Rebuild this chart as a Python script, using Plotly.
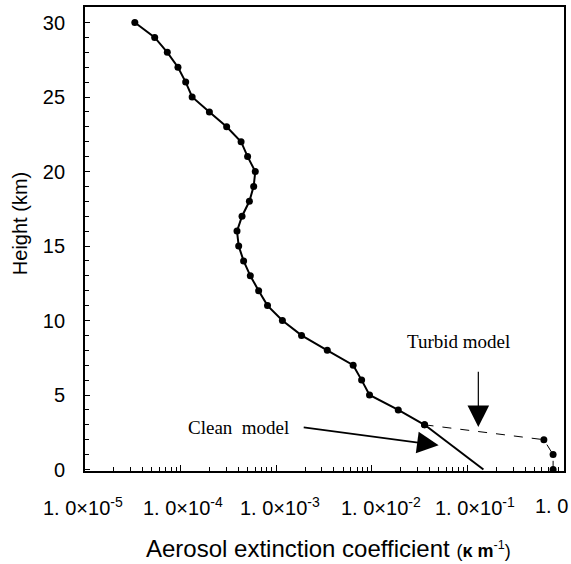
import math
import plotly.graph_objects as go

# ---- data ----
heights_main = [30, 29, 28, 27, 26, 25, 24, 23, 22, 21, 20, 19, 18, 17, 16,
                15, 14, 13, 12, 11, 10, 9, 8, 7, 6, 5, 4, 3]
ext_main = [3.32e-5, 5.36e-5, 7.26e-5, 9.38e-5, 1.13e-4, 1.32e-4, 2.00e-4,
            3.03e-4, 4.29e-4, 5.02e-4, 6.04e-4, 5.81e-4, 5.24e-4, 4.39e-4,
            3.89e-4, 4.05e-4, 4.56e-4, 5.36e-4, 6.55e-4, 8.11e-4, 1.16e-3,
            1.84e-3, 3.42e-3, 6.38e-3, 7.82e-3, 9.46e-3, 1.89e-2, 3.56e-2]

heights_clean = [3, 0]
ext_clean = [3.56e-2, 1.47e-1]

heights_turbid = [3, 2, 1, 0]
ext_turbid = [3.56e-2, 0.63, 0.787, 0.787]

xtick_vals = [1e-5, 1e-4, 1e-3, 1e-2, 1e-1, 1.0]
xtick_text = ["1. 0×10<sup>-5</sup>", "1. 0×10<sup>-4</sup>", "1. 0×10<sup>-3</sup>",
              "1. 0×10<sup>-2</sup>", "1. 0×10<sup>-1</sup>", "1. 0"]
xtick_shift = [-2, 2, 4, 9, 8, -12]
ytick_vals = [0, 5, 10, 15, 20, 25, 30]

fig = go.Figure()

fig.add_trace(go.Scatter(
    x=ext_turbid, y=heights_turbid, mode="lines+markers",
    line=dict(color="black", width=1, dash="dash"),
    marker=dict(color="black", size=7), showlegend=False))
fig.add_trace(go.Scatter(
    x=ext_clean, y=heights_clean, mode="lines",
    line=dict(color="black", width=2), showlegend=False))
fig.add_trace(go.Scatter(
    x=ext_main, y=heights_main, mode="lines+markers",
    line=dict(color="black", width=2),
    marker=dict(color="black", size=7), showlegend=False))

sans = "Liberation Sans, Arial, sans-serif"
serif = "Liberation Serif, Times New Roman, serif"

annotations = []
for v, t, s in zip(xtick_vals, xtick_text, xtick_shift):
    annotations.append(dict(
        x=math.log10(v), y=0, xref="x", yref="paper", text=t, showarrow=False,
        xanchor="center", yanchor="middle", yshift=-35, xshift=s,
        font=dict(family=sans, size=20, color="black")))

annotations += [
    dict(x=0.509, y=0, xref="paper", yref="paper",
         text='Aerosol extinction coefficient <span style="font-size:18px">(<b>κ m</b><sup>-1</sup>)</span>',
         showarrow=False, xanchor="center", yanchor="middle", yshift=-77,
         font=dict(family=sans, size=24, color="black")),
    dict(x=0, y=0.532, xref="paper", yref="paper", text="Height (km)",
         textangle=-90, showarrow=False, xanchor="center", yanchor="middle",
         xshift=-65, font=dict(family=sans, size=20, color="black")),
    dict(x=math.log10(0.08), y=8.6, xref="x", yref="y", text="Turbid model",
         showarrow=False, font=dict(family=serif, size=19, color="black")),
    dict(x=math.log10(4.0e-4), y=2.85, xref="x", yref="y", text="Clean&nbsp; model",
         showarrow=False, font=dict(family=serif, size=19, color="black")),
    dict(x=math.log10(0.13), y=2.85, xref="x", yref="y",
         ax=math.log10(0.13), ay=6.66, axref="x", ayref="y", text="",
         showarrow=True, arrowhead=2, arrowsize=3.6, arrowwidth=1.2, arrowcolor="black"),
    dict(x=math.log10(0.05), y=1.62, xref="x", yref="y",
         ax=math.log10(1.87e-3), ay=2.84, axref="x", ayref="y", text="",
         showarrow=True, arrowhead=2, arrowsize=2.7, arrowwidth=1.6, arrowcolor="black"),
]

fig.update_layout(
    width=571, height=564,
    margin=dict(l=85, r=5, t=6, b=93),
    paper_bgcolor="white", plot_bgcolor="white",
    annotations=annotations,
    font=dict(family=sans, color="black"),
)

fig.update_xaxes(
    type="log", range=[-5, 0.01], showgrid=False, zeroline=False,
    showline=True, linecolor="black", linewidth=1.5, mirror=True,
    ticks="inside", ticklen=6, tickwidth=1, tickcolor="black",
    tickvals=xtick_vals, showticklabels=False,
    minor=dict(ticks="inside", ticklen=4, tickwidth=1, tickcolor="black",
               dtick="D1", showgrid=False),
)

fig.update_yaxes(
    range=[-0.1, 31.04], showgrid=False, zeroline=False,
    showline=True, linecolor="black", linewidth=1.8, mirror=True,
    ticks="inside", ticklen=5, tickwidth=1, tickcolor="black",
    tickvals=ytick_vals, ticklabelstandoff=14,
    tickfont=dict(family=sans, size=20, color="black"),
    minor=dict(ticks="inside", ticklen=4, tickwidth=1, tickcolor="black",
               dtick=1, showgrid=False),
)

fig.write_html("out.html")
